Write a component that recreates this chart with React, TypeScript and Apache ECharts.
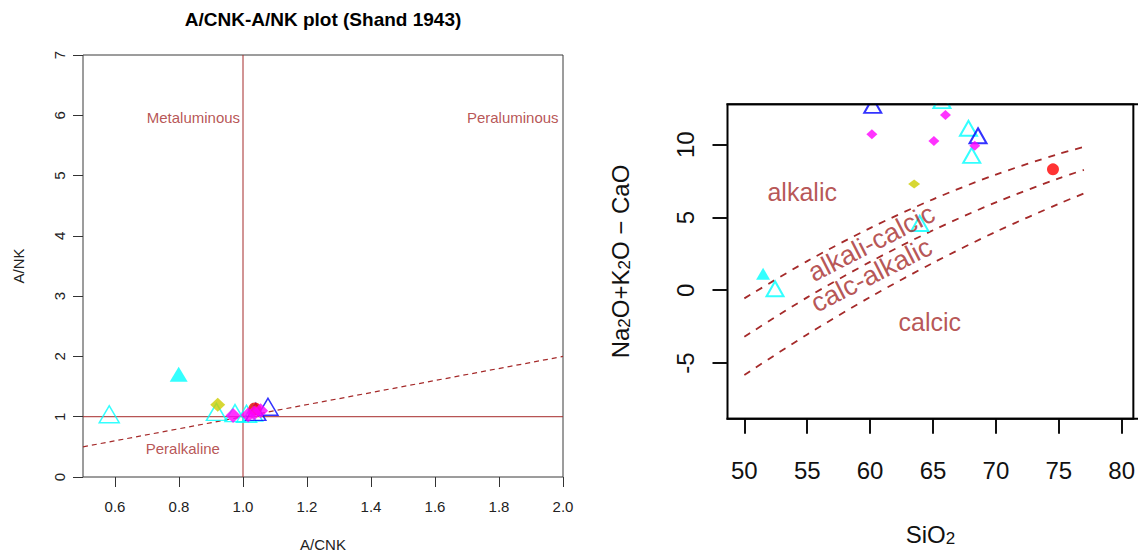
import React, { useEffect, useRef } from "react";
import * as echarts from "echarts";

// ---------- Left plot: A/CNK vs A/NK (Shand 1943) ----------
const acnkTicks = [0.6, 0.8, 1.0, 1.2, 1.4, 1.6, 1.8, 2.0];
const ankTicks = [0, 1, 2, 3, 4, 5, 6, 7];
const shandCyanOpen = [[0.582, 1.04], [0.917, 1.08], [0.975, 1.06], [1.011, 1.05], [1.03, 1.07]];
const shandCyanFilled = [[0.799, 1.705]];
const shandYellow = [[0.921, 1.2]];
const shandBlueOpen = [[1.04, 1.08], [1.078, 1.166]];
const shandRed = [[1.037, 1.13]];
const shandMagenta = [[0.969, 1.02], [1.016, 1.03], [1.035, 1.06], [1.055, 1.1]];
const shandVertical = [[1.0, 0], [1.0, 7]];
const shandHorizontal = [[0.5, 1], [2.0, 1]];
const shandDashed = [[0.5, 0.5], [2.0, 2.0]];
const shandLabels = [
  { name: "Metaluminous", value: [0.845, 5.97] },
  { name: "Peraluminous", value: [1.843, 5.97] },
  { name: "Peralkaline", value: [0.812, 0.47] },
];

// ---------- Right plot: SiO2 vs Na2O+K2O-CaO (MALI) ----------
const sio2Ticks = [50, 55, 60, 65, 70, 75, 80];
const maliTicks = [-5, 0, 5, 10];
const boundarySiO2 = [50, 55, 60, 65, 70, 75, 77];
const alkalicBoundary = [-0.56, 2.0, 4.27, 6.25, 7.95, 9.37, 9.85];
const alkaliCalcicBoundary = [-3.2, -0.49, 1.95, 4.12, 6.04, 7.69, 8.27];
const calcAlkalicBoundary = [-5.82, -3.04, -0.47, 1.88, 4.02, 5.94, 6.65];
const maliCyanOpen = [[52.44, 0.1], [63.95, 4.59], [65.71, 13.03], [67.82, 11.13], [68.08, 9.27]];
const maliCyanFilled = [[51.49, 1.14]];
const maliYellow = [[63.5, 7.3]];
const maliBlueOpen = [[60.21, 12.71], [68.58, 10.62]];
const maliRed = [[74.54, 8.31]];
const maliMagenta = [[60.14, 10.72], [65.07, 10.25], [65.99, 12.04], [68.32, 9.93]];
const maliLabels = [
  { name: "alkalic", value: [54.6, 6.74], rotate: 0, size: 25 },
  { name: "alkali-calcic", value: [60.1, 3.25], rotate: 27, size: 27 },
  { name: "calc-alkalic", value: [60.1, 1.05], rotate: 27, size: 27 },
  { name: "calcic", value: [64.75, -2.2], rotate: 0, size: 25 },
];

const BROWN = "#A52A2A";
const CYAN = "#00FFFF";
const BLUE = "#0000FF";
const MAGENTA = "#FF00FF";
const YELLOW = "#CDCD00";
const RED = "#FF0000";
const FONT = "'Liberation Sans', Arial, sans-serif";

const pair = (xs: number[], ys: number[]) => xs.map((x, i) => [x, ys[i]]);

function pts(
  data: number[][],
  axis: number,
  symbol: string,
  size: number | number[],
  color: string,
  open: boolean,
  bw: number
) {
  return {
    type: "scatter",
    xAxisIndex: axis,
    yAxisIndex: axis,
    data,
    symbol,
    symbolSize: size,
    clip: false,
    silent: true,
    itemStyle: open
      ? { color: "rgba(0,0,0,0)", borderColor: color, borderWidth: bw }
      : { color, borderWidth: 0 },
    z: 3,
  };
}

function lineS(data: number[][], axis: number, dashed: boolean, width: number, dash: number[], smooth = false) {
  return {
    type: "line",
    xAxisIndex: axis,
    yAxisIndex: axis,
    data,
    symbol: "none",
    silent: true,
    smooth: smooth ? 0.3 : false,
    lineStyle: { color: BROWN, width, type: dashed ? dash : "solid" },
    z: 2,
  };
}

function labelSeries(data: any[], axis: number, fontSize: number) {
  return {
    type: "scatter",
    xAxisIndex: axis,
    yAxisIndex: axis,
    symbolSize: 1,
    silent: true,
    itemStyle: { color: "rgba(0,0,0,0)" },
    data: data.map((d) => ({
      name: d.name,
      value: d.value,
      label: { rotate: d.rotate || 0, fontSize: d.size || fontSize },
    })),
    label: {
      show: true,
      position: "inside",
      formatter: "{b}",
      color: BROWN,
      fontSize,
      fontFamily: FONT,
    },
    z: 4,
  };
}

const leftFmt = (v: number) => v.toFixed(1);

const option: any = {
  animation: false,
  backgroundColor: "#ffffff",
  graphic: [
    {
      type: "text",
      x: 323,
      y: 19,
      style: {
        text: "A/CNK-A/NK plot (Shand 1943)",
        fontSize: 19,
        fontWeight: "bold",
        fontFamily: FONT,
        fill: "#000",
        textAlign: "center",
        textVerticalAlign: "middle",
      },
    },
    {
      type: "rect",
      z: 100,
      shape: { x: 700, y: 0, width: 438, height: 103.3 },
      style: { fill: "#ffffff" },
    },
    {
      type: "rect",
      z: 100,
      shape: { x: 1136, y: 100, width: 4, height: 330 },
      style: { fill: "#ffffff" },
    },
    {
      type: "line",
      z: 101,
      shape: { x1: 726.5, y1: 104.3, x2: 1138, y2: 104.3 },
      style: { stroke: "#000", lineWidth: 2 },
    },
    {
      type: "line",
      z: 101,
      shape: { x1: 726.5, y1: 418.7, x2: 1138, y2: 418.7 },
      style: { stroke: "#000", lineWidth: 2 },
    },
  ],
  grid: [
    {
      left: 83,
      top: 55,
      width: 480,
      height: 422,
      show: true,
      borderColor: "#3a3a3a",
      borderWidth: 1,
      backgroundColor: "transparent",
    },
    {
      left: 727.5,
      top: 104.3,
      width: 410.5,
      height: 314.4,
      show: true,
      borderColor: "#000",
      borderWidth: 2,
      backgroundColor: "transparent",
    },
  ],
  xAxis: [
    {
      type: "value",
      gridIndex: 0,
      min: 0.5,
      max: 2.0,
      name: "A/CNK",
      nameLocation: "middle",
      nameGap: 60,
      nameTextStyle: { fontSize: 15, fontFamily: FONT, color: "#222" },
      axisLine: { show: false, onZero: false },
      splitLine: { show: false },
      axisTick: { show: true, length: 10, customValues: acnkTicks, lineStyle: { color: "#333" } },
      axisLabel: {
        customValues: acnkTicks,
        formatter: leftFmt,
        margin: 22,
        fontSize: 15,
        fontFamily: FONT,
        color: "#222",
      },
    },
    {
      type: "value",
      gridIndex: 1,
      min: 48.66,
      max: 80.93,
      name: "SiO{s|2}",
      nameLocation: "middle",
      nameGap: 104,
      nameTextStyle: {
        fontSize: 24,
        fontFamily: FONT,
        color: "#111",
        rich: {
          s: { fontSize: 17, fontFamily: FONT, color: "#111", verticalAlign: "bottom", lineHeight: 17, padding: [12, 0, 0, 0] },
        },
      },
      axisLine: { show: false, onZero: false },
      splitLine: { show: false },
      axisTick: { show: true, length: 15, customValues: sio2Ticks, lineStyle: { color: "#111", width: 2 } },
      axisLabel: {
        customValues: sio2Ticks,
        margin: 40,
        fontSize: 24,
        fontFamily: FONT,
        color: "#111",
      },
    },
  ],
  yAxis: [
    {
      type: "value",
      gridIndex: 0,
      min: 0,
      max: 7,
      interval: 1,
      name: "A/NK",
      nameLocation: "middle",
      nameGap: 57,
      nameTextStyle: { fontSize: 15, fontFamily: FONT, color: "#222" },
      axisLine: { show: false, onZero: false },
      splitLine: { show: false },
      axisTick: { show: true, length: 10, customValues: ankTicks, lineStyle: { color: "#333" } },
      axisLabel: {
        customValues: ankTicks,
        rotate: 90,
        margin: 16,
        fontSize: 15,
        fontFamily: FONT,
        color: "#222",
      },
    },
    {
      type: "value",
      gridIndex: 1,
      min: -8.83,
      max: 12.78,
      name: "{n|Na}{s|2}{n|O+K}{s|2}{n|O − CaO}",
      nameLocation: "middle",
      nameGap: 95,
      nameTextStyle: {
        fontSize: 24,
        fontFamily: FONT,
        color: "#111",
        rich: {
          n: { fontSize: 24, fontFamily: FONT, color: "#111", verticalAlign: "top", lineHeight: 24 },
          s: { fontSize: 17, fontFamily: FONT, color: "#111", verticalAlign: "bottom", lineHeight: 17, padding: [12, 0, 0, 0] },
        },
      },
      axisLine: { show: false, onZero: false },
      splitLine: { show: false },
      axisTick: { show: true, length: 15, customValues: maliTicks, lineStyle: { color: "#111", width: 2 } },
      axisLabel: {
        customValues: maliTicks,
        rotate: 90,
        margin: 30,
        fontSize: 24,
        fontFamily: FONT,
        color: "#111",
      },
    },
  ],
  series: [
    // left
    lineS(shandVertical, 0, false, 1, []),
    lineS(shandHorizontal, 0, false, 1, []),
    lineS(shandDashed, 0, true, 1.2, [5, 4]),
    pts(shandCyanOpen, 0, "triangle", [20, 17], CYAN, true, 1.5),
    pts(shandBlueOpen, 0, "triangle", [20, 17], BLUE, true, 1.5),
    pts(shandCyanFilled, 0, "triangle", [18, 15], CYAN, false, 0),
    pts(shandYellow, 0, "diamond", [15, 14], YELLOW, false, 0),
    pts(shandRed, 0, "circle", 13, RED, false, 0),
    pts(shandMagenta, 0, "diamond", [15, 15], MAGENTA, false, 0),
    labelSeries(shandLabels, 0, 15),
    // right
    lineS(pair(boundarySiO2, alkalicBoundary), 1, true, 1.8, [7, 7], true),
    lineS(pair(boundarySiO2, alkaliCalcicBoundary), 1, true, 1.8, [7, 7], true),
    lineS(pair(boundarySiO2, calcAlkalicBoundary), 1, true, 1.8, [7, 7], true),
    pts(maliCyanOpen, 1, "triangle", [17, 15], CYAN, true, 2),
    pts(maliBlueOpen, 1, "triangle", [17, 15], BLUE, true, 2),
    pts(maliCyanFilled, 1, "triangle", [14, 12], CYAN, false, 0),
    pts(maliYellow, 1, "diamond", [12, 9], YELLOW, false, 0),
    pts(maliRed, 1, "circle", 12, RED, false, 0),
    pts(maliMagenta, 1, "diamond", [11, 10], MAGENTA, false, 0),
    labelSeries(maliLabels, 1, 25),
  ],
};

export default function App() {
  const ref = useRef<HTMLDivElement>(null);
  useEffect(() => {
    document.body.style.margin = "0";
    const chart = echarts.init(ref.current!, null, { renderer: "svg" });
    chart.setOption(option);
    return () => chart.dispose();
  }, []);
  return <div ref={ref} style={{ width: 1138, height: 557 }} />;
}
